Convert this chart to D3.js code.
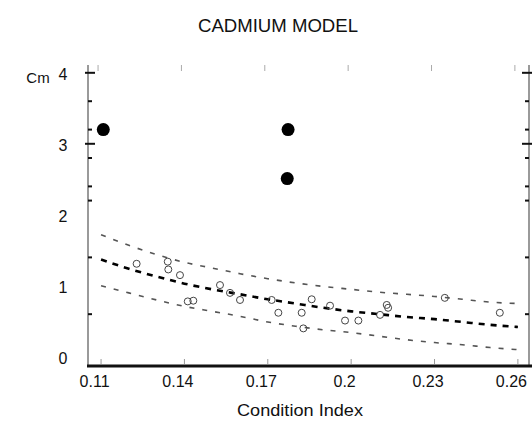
<!DOCTYPE html>
<html><head><meta charset="utf-8">
<script src="https://cdn.jsdelivr.net/npm/d3@7/dist/d3.min.js"></script>
<style>body{margin:0;background:#fff}svg{display:block}text{font-family:"Liberation Sans",Arial,sans-serif;fill:#111}</style>
</head><body><svg id="c" width="532" height="421"></svg>
<script>
const title = "CADMIUM MODEL";
const xLabel = "Condition Index";
const yLabel = "Cm";
const xTicks = [0.11, 0.14, 0.17, 0.2, 0.23, 0.26];
const xTickLabels = ["0.11", "0.14", "0.17", "0.2", "0.23", "0.26"];
const yTicks = [0, 1, 2, 3, 4];
const yMajorMarks = [4, 3];
const yMinorMarks = [3.6, 3.2, 2.8, 2.4, 2.2, 1.4, 0.6];
const curveX = [0.11,0.12,0.13,0.14,0.15,0.16,0.17,0.18,0.19,0.20,0.21,0.22,0.23,0.24,0.25,0.26];
const upper  = [1.72,1.57,1.44,1.33,1.25,1.17,1.10,1.04,0.99,0.95,0.91,0.88,0.85,0.81,0.77,0.75];
const median = [1.37,1.24,1.13,1.03,0.95,0.88,0.81,0.75,0.69,0.64,0.60,0.56,0.53,0.49,0.45,0.42];
const lower  = [1.00,0.90,0.80,0.71,0.64,0.57,0.49,0.43,0.38,0.34,0.29,0.24,0.20,0.17,0.13,0.10];
const obsX = [0.1228,0.1340,0.1342,0.1384,0.1412,0.1432,0.1528,0.1564,0.1600,0.1714,0.1738,0.1822,0.1828,0.1858,0.1924,0.1978,0.2026,0.2104,0.2133,0.2128,0.2337,0.2535];
const obsY = [1.31,1.34,1.23,1.15,0.78,0.79,1.01,0.90,0.80,0.80,0.62,0.62,0.40,0.81,0.72,0.51,0.51,0.59,0.69,0.73,0.83,0.62];
const outX = [0.1108, 0.1773, 0.1770];
const outY = [3.20, 3.20, 2.51];

const svg = d3.select("#c");
const x = d3.scaleLinear().domain([0.1053, 0.264]).range([88, 529]);
const y = d3.scaleLinear().domain([-0.13, 4.11]).range([366, 65]);

// title
svg.append("text").attr("x", 278).attr("y", 32).attr("text-anchor", "middle")
  .attr("font-size", 18).attr("textLength", 160).attr("lengthAdjust", "spacingAndGlyphs").text(title);

// left & right axis lines
[x.range()[0], x.range()[1]].forEach(px => {
  svg.append("line").attr("x1", px).attr("x2", px).attr("y1", y.range()[1]).attr("y2", y.range()[0])
    .attr("stroke", "#9a9a9a").attr("stroke-width", 2);
});
// y marks
yMajorMarks.forEach(v => {
  svg.append("line").attr("x1", x.range()[0] - 3).attr("x2", x.range()[0] + 7).attr("y1", y(v)).attr("y2", y(v)).attr("stroke", "#111").attr("stroke-width", 2);
  svg.append("line").attr("x1", x.range()[1] - 7).attr("x2", x.range()[1] + 3).attr("y1", y(v)).attr("y2", y(v)).attr("stroke", "#111").attr("stroke-width", 2);
});
yMinorMarks.forEach(v => {
  svg.append("line").attr("x1", x.range()[0]).attr("x2", x.range()[0] + 4).attr("y1", y(v)).attr("y2", y(v)).attr("stroke", "#111").attr("stroke-width", 2);
  svg.append("line").attr("x1", x.range()[1] - 4).attr("x2", x.range()[1]).attr("y1", y(v)).attr("y2", y(v)).attr("stroke", "#111").attr("stroke-width", 2);
});
// y tick labels
const yAxis = d3.axisLeft(y).tickValues(yTicks).tickSize(0).tickPadding(0).tickFormat(d3.format("d"));
const gy = svg.append("g").attr("transform", "translate(63,2)").call(yAxis);
gy.select(".domain").remove();
gy.selectAll("text").attr("font-size", 16).attr("text-anchor", "middle").attr("fill", "#111").style("font-family", "Liberation Sans, Arial, sans-serif");

// x axis bottom
const xAxis = d3.axisBottom(x).tickValues(xTicks).tickSize(0).tickPadding(0).tickFormat((d, i) => xTickLabels[i]);
const gx = svg.append("g").attr("transform", `translate(-7,${y.range()[0] + 6})`).call(xAxis);
gx.select(".domain").remove();
gx.selectAll("text").attr("font-size", 16).attr("fill", "#111").attr("dy", "0.95em").style("font-family", "Liberation Sans, Arial, sans-serif");
svg.append("line").attr("x1", 87).attr("x2", 532).attr("y1", y.range()[0]).attr("y2", y.range()[0]).attr("stroke", "#111").attr("stroke-width", 3);
xTicks.forEach(v => {
  svg.append("line").attr("x1", x(v)).attr("x2", x(v)).attr("y1", y.range()[0] - 2).attr("y2", y.range()[0] - 7).attr("stroke", "#999").attr("stroke-width", 1);
  svg.append("line").attr("x1", x(v) - 3).attr("x2", x(v) - 3).attr("y1", y.range()[1]).attr("y2", y.range()[1] + 6).attr("stroke", "#aaa").attr("stroke-width", 1);
});

// axis titles
svg.append("text").attr("x", 38).attr("y", 83).attr("text-anchor", "middle").attr("font-size", 15).text(yLabel);
svg.append("text").attr("x", 300).attr("y", 416).attr("text-anchor", "middle").attr("font-size", 17)
  .attr("textLength", 126).attr("lengthAdjust", "spacingAndGlyphs").text(xLabel);

// curves
const line = d3.line().x((d, i) => x(curveX[i])).y(d => y(d)).curve(d3.curveMonotoneX);
svg.append("path").attr("d", line(upper)).attr("fill", "none").attr("stroke", "#555").attr("stroke-width", 1.6).attr("stroke-dasharray", "5,8");
svg.append("path").attr("d", line(lower)).attr("fill", "none").attr("stroke", "#555").attr("stroke-width", 1.6).attr("stroke-dasharray", "5,8");
svg.append("path").attr("d", line(median)).attr("fill", "none").attr("stroke", "#000").attr("stroke-width", 2.6).attr("stroke-dasharray", "6,6");

// observed points
svg.append("g").selectAll("circle").data(obsX).join("circle")
  .attr("cx", d => x(d)).attr("cy", (d, i) => y(obsY[i])).attr("r", 3.5)
  .attr("fill", "none").attr("stroke", "#444").attr("stroke-width", 1);
// outliers
svg.append("g").selectAll("circle").data(outX).join("circle")
  .attr("cx", d => x(d)).attr("cy", (d, i) => y(outY[i])).attr("r", 6.5).attr("fill", "#000");
</script></body></html>
